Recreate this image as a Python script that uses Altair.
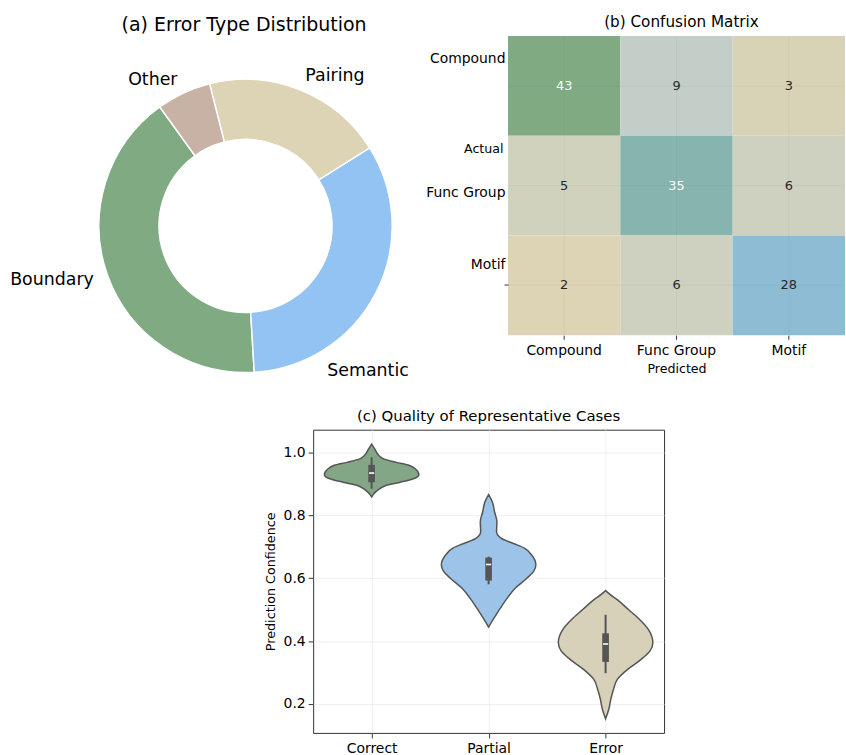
import json
import math
import altair as alt
import pandas as pd

# ---------------- data ----------------
error_types = ["Boundary", "Semantic", "Pairing", "Other"]
error_counts = [41, 33, 20, 6]
draw_order = ["Pairing", "Semantic", "Boundary", "Other"]   # clockwise from the top
pie_colors = ["#7FAA82", "#92C3F2", "#DCD4B4", "#C8B2A5"]

classes = ["Compound", "Func Group", "Motif"]
confusion = [[43, 9, 3],
             [5, 35, 6],
             [2, 6, 28]]
heat_colors = ["#DCD4B4", "#92C3F2", "#7FAA82"]

cases = ["Correct", "Partial", "Error"]
violin_colors = ["#83A686", "#9CC3E8", "#D7D1B9"]

correct_y = [1.027, 1.012, 0.990, 0.980, 0.969, 0.959, 0.948, 0.930, 0.917, 0.906, 0.896, 0.885, 0.875, 0.859]
correct_w = [0.0, 0.026, 0.064, 0.102, 0.212, 0.323, 0.374, 0.404, 0.357, 0.246, 0.127, 0.068, 0.034, 0.0]
partial_y = [0.866, 0.843, 0.811, 0.780, 0.748, 0.727, 0.711, 0.696, 0.674, 0.643, 0.622, 0.601, 0.569, 0.537, 0.506, 0.474, 0.445]
partial_w = [0.0, 0.032, 0.051, 0.071, 0.068, 0.109, 0.212, 0.306, 0.368, 0.404, 0.385, 0.329, 0.229, 0.159, 0.102, 0.047, 0.0]
error_y = [0.561, 0.548, 0.532, 0.500, 0.469, 0.436, 0.395, 0.369, 0.342, 0.311, 0.279, 0.247, 0.216, 0.184, 0.153]
error_w = [0.0, 0.040, 0.099, 0.198, 0.291, 0.368, 0.404, 0.380, 0.304, 0.191, 0.102, 0.068, 0.045, 0.028, 0.0]

box_q1 = [0.906, 0.593, 0.334]
box_q3 = [0.961, 0.666, 0.425]
box_lo = [0.885, 0.581, 0.298]
box_hi = [0.985, 0.669, 0.484]
box_med = [0.935, 0.644, 0.391]

FONT = "DejaVu Sans"

# ---------------- (a) donut ----------------
total = sum(error_counts)
pie_df = pd.DataFrame({
    "label": error_types,
    "value": error_counts,
    "idx": [draw_order.index(t) for t in error_types],
})
START = math.radians(-14.2)
theta_scale = alt.Scale(domain=[0, total], range=[START, START + 2 * math.pi])
PIE_CX, PIE_CY = 247, 191
# label placement style: the Semantic label sits further round and slightly further out
label_nudge_deg = {"Semantic": 33.4}
label_radius = {"default": 162, "Semantic": 167.5}

pie_base = alt.Chart(pie_df)
arcs = pie_base.mark_arc(innerRadius=87, outerRadius=147.5, stroke="white", strokeWidth=1.5,
                         x=PIE_CX, y=PIE_CY).encode(
    theta=alt.Theta("value:Q", stack=True, scale=theta_scale),
    order=alt.Order("idx:Q"),
    color=alt.Color("label:N", scale=alt.Scale(domain=error_types, range=pie_colors), legend=None),
)

nudge_pct = label_nudge_deg["Semantic"] / 360 * total
lab_base = pie_base.transform_window(
    cum="sum(value)", sort=[alt.SortField("idx", order="ascending")]
).transform_calculate(
    lab=f"datum.cum - datum.value/2 + (datum.label === 'Semantic' ? {nudge_pct} : 0)"
).transform_calculate(
    ang=f"{START} + 2*PI*datum.lab/{total}"
)

def pie_labels(test, align, radius):
    return lab_base.transform_filter(test).mark_text(
        align=align, baseline="middle", radius=radius, x=PIE_CX, y=PIE_CY,
        fontSize=17.5, font=FONT, color="black"
    ).encode(
        theta=alt.Theta("lab:Q", scale=theta_scale, stack=False),
        text="label:N",
    )

pie = alt.layer(
    arcs,
    pie_labels("sin(datum.ang) >= 0 && datum.label !== 'Semantic'", "left", label_radius["default"]),
    pie_labels("datum.label === 'Semantic'", "left", label_radius["Semantic"]),
    pie_labels("sin(datum.ang) < 0", "right", label_radius["default"]),
).properties(
    width=427, height=345,
    title=alt.TitleParams("(a) Error Type Distribution", fontSize=19.1,
                          fontWeight="normal", dx=32, offset=1, font=FONT, color="black"),
)

# ---------------- (b) confusion matrix ----------------
rows = []
for i, a in enumerate(classes):
    for j, p in enumerate(classes):
        rows.append({"actual": a, "pred": p, "count": confusion[i][j]})
heat_df = pd.DataFrame(rows)
vals = [v for r in confusion for v in r]
vmin, vmax = min(vals), max(vals)

heat_base = alt.Chart(heat_df).encode(
    x=alt.X("pred:N", sort=classes, title="Predicted",
            scale=alt.Scale(paddingInner=0, paddingOuter=0),
            axis=alt.Axis(labelAngle=0, labelFontSize=14, titleFontSize=12.7, tickSize=4,
                          tickColor="#333333", domain=False, labelPadding=4, titlePadding=5,
                          grid=True, gridColor="#777777", gridOpacity=0.1, gridWidth=0.8,
                          tickBand="center", zindex=1,
                          labelColor="black", titleColor="black", titleFontWeight="normal")),
    y=alt.Y("actual:N", sort=classes, title="Actual",
            scale=alt.Scale(paddingInner=0, paddingOuter=0),
            axis=alt.Axis(labelFontSize=14, tickSize=4, tickColor="#333333", domain=False,
                          labelPadding=-1, grid=True, gridColor="#777777", gridOpacity=0.1,
                          gridWidth=0.8, tickBand="center", zindex=1,
                          labelColor="black", titleColor="black",
                          titleFontWeight="normal", titleFontSize=12.7, titleAngle=0,
                          titleAlign="right", titleBaseline="middle", titleX=-5, titleY=113,
                          labelOffset={"condition": [
                              {"test": "datum.value === 'Compound'", "value": -27},
                              {"test": "datum.value === 'Motif'", "value": -20}],
                              "value": 7},
                          tickOpacity={"condition": {"test": "datum.value === 'Motif'", "value": 1},
                                       "value": 0})),
)
heat_rect = heat_base.mark_rect().encode(
    color=alt.Color("count:Q", legend=None,
                    scale=alt.Scale(domain=[vmin, (vmin + vmax) / 2, vmax], range=heat_colors,
                                    interpolate="rgb")),
)
heat_text = heat_base.mark_text(fontSize=13, font=FONT).encode(
    text="count:Q",
    color=alt.when(alt.datum.count > 30).then(alt.value("white")).otherwise(alt.value("#262626")),
)
heat = alt.layer(heat_rect, heat_text).properties(
    width=339, height=301,
    title=alt.TitleParams("(b) Confusion Matrix", fontSize=15.3, fontWeight="normal",
                          dx=5, offset=6, font=FONT, color="black"),
)

# ---------------- (c) violins ----------------
vrows = []
for k, (ys, ws) in enumerate([(correct_y, correct_w), (partial_y, partial_w), (error_y, error_w)]):
    for yv, wv in zip(ys, ws):
        vrows.append({"case": cases[k], "pos": k, "y": yv, "lo": k - wv, "hi": k + wv})
vdf = pd.DataFrame(vrows).sort_values(["pos", "y"])

bdf = pd.DataFrame({"case": cases, "pos": list(range(len(cases))), "q1": box_q1, "q3": box_q3,
                    "lo": box_lo, "hi": box_hi, "med": box_med})

xscale = alt.Scale(domain=[-0.5, 2.5], nice=False, zero=False)
yscale = alt.Scale(domain=[0.108, 1.073], nice=False, zero=False)
label_expr = json.dumps(cases) + "[datum.value]"

xaxis = alt.Axis(values=[0, 1, 2], labelExpr=label_expr, title=None, labelFontSize=14,
                 tickSize=5, tickColor="#333333", domain=False, labelPadding=4,
                 gridColor="#ebebeb", gridWidth=0.8, labelColor="black")
yaxis = alt.Axis(values=[0.2, 0.4, 0.6, 0.8, 1.0], format=".1f", labelFontSize=14, tickSize=5,
                 tickColor="#333333", domain=False, labelPadding=3, title="Prediction Confidence",
                 titleFontSize=12.8, titlePadding=6, titleFontWeight="normal",
                 gridColor="#ebebeb", gridWidth=0.8, labelColor="black", titleColor="black")

violin_area = alt.Chart(vdf).mark_area(
    orient="horizontal", interpolate="monotone", stroke="#555555", strokeWidth=1.5, opacity=1
).encode(
    y=alt.Y("y:Q", scale=yscale, axis=yaxis),
    x=alt.X("lo:Q", scale=xscale, axis=xaxis),
    x2="hi:Q",
    color=alt.Color("case:N", scale=alt.Scale(domain=cases, range=violin_colors), legend=None),
)
box_base = alt.Chart(bdf)
whisker = box_base.mark_rule(color="#555555", strokeWidth=2).encode(
    x=alt.X("pos:Q", scale=xscale), y=alt.Y("lo:Q", scale=yscale), y2="hi:Q")
box = box_base.mark_rule(color="#555555", strokeWidth=6.7).encode(
    x=alt.X("pos:Q", scale=xscale), y=alt.Y("q1:Q", scale=yscale), y2="q3:Q")
median = box_base.transform_calculate(
    m1="datum.pos - 0.022", m2="datum.pos + 0.022"
).mark_rule(color="white", strokeWidth=1.6).encode(
    x=alt.X("m1:Q", scale=xscale), x2="m2:Q", y=alt.Y("med:Q", scale=yscale))

violin = alt.layer(violin_area, whisker, box, median).properties(
    width=353, height=305,
    title=alt.TitleParams("(c) Quality of Representative Cases", fontSize=15, fontWeight="normal",
                          offset=6, font=FONT, color="black"),
    view=alt.ViewBackground(stroke="#333333", strokeWidth=1),
)

spacer = alt.Chart(alt.Data(values=[{"v": 0}])).mark_text(text="").properties(width=265, height=10)

top = alt.hconcat(pie, heat, spacing=0).resolve_scale(color="independent", theta="independent")
bottom = alt.hconcat(spacer, violin, spacing=0).resolve_scale(color="independent")

chart = alt.vconcat(top, bottom, spacing=28).resolve_scale(color="independent").properties(
    padding={"top": 12, "left": 0, "right": 0, "bottom": 0}
).configure(font=FONT).configure_view(stroke="transparent")

chart.save("out.html", embed_options={"renderer": "svg", "actions": False})
